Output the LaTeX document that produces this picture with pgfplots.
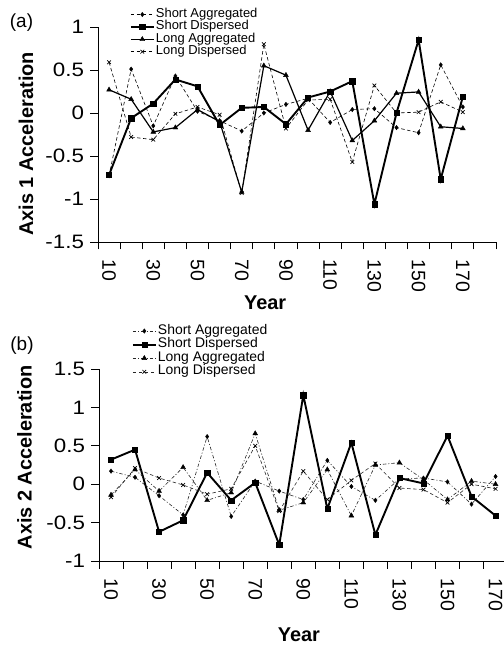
\documentclass[border=0pt]{standalone}
\usepackage{fontspec}
\setmainfont{Liberation Sans}
\newfontfamily\yticfamily[FakeStretch=1.15]{Liberation Sans}
\usepackage{pgfplots}
\pgfplotsset{compat=1.18}
\usepackage{pgfplotstable}

\newcommand\ticfont{\fontsize{19.5}{19.5}\selectfont}
\newcommand\yticfont{\yticfamily\fontsize{19.5}{19.5}\selectfont}
\newcommand\labfont{\fontsize{20}{20}\selectfont\bfseries}

\pgfplotstableread{
x SA SD LA LD
10 -0.73 -0.72 0.27 0.59
20 0.51 -0.06 0.16 -0.28
30 -0.15 0.11 -0.22 -0.31
40 0.43 0.39 -0.17 -0.01
50 0.02 0.31 0.04 0.07
60 -0.09 -0.14 -0.10 -0.02
70 -0.21 0.06 -0.92 -0.93
80 0.00 0.07 0.55 0.80
90 0.10 -0.13 0.44 -0.18
100 0.17 0.18 -0.20 0.15
110 -0.11 0.25 0.25 0.16
120 0.04 0.37 -0.32 -0.57
130 0.05 -1.06 -0.09 0.32
140 -0.17 0.00 0.23 0.00
150 -0.23 0.85 0.245 0.01
160 0.56 -0.77 -0.16 0.13
170 0.07 0.19 -0.18 0.01
}\dataA

\pgfplotstableread{
x SA SD LA LD
10 0.17 0.32 -0.14 -0.17
20 0.09 0.45 0.19 0.21
30 -0.15 -0.62 -0.09 0.08
40 -0.40 -0.47 0.22 -0.01
50 0.62 0.15 -0.21 -0.13
60 -0.42 -0.21 -0.11 -0.06
70 0.04 0.02 0.66 0.50
80 -0.09 -0.79 -0.34 -0.35
90 -0.20 1.16 -0.24 0.17
100 0.31 -0.32 0.19 -0.20
110 -0.03 0.54 -0.41 0.05
120 -0.21 -0.66 0.25 0.27
130 0.07 0.08 0.28 -0.05
140 0.08 0.01 0.06 -0.07
150 0.03 0.63 -0.20 -0.24
160 -0.26 -0.16 0.04 0.00
170 0.10 -0.41 0.00 -0.06
}\dataB

\pgfplotsset{
  panel/.style={
    scale only axis, anchor=south west,
    axis x line*=bottom, axis y line*=left,
    axis line style={line width=0.9bp, black},
    tick align=outside,
    tick style={black, line width=0.8bp},
    major tick length=7.5bp,
    xmin=5, xmax=185,
    xtick={5,15,...,185}, xticklabels={},
    extra x ticks={10,30,...,170},
    extra x tick labels={10,30,50,70,90,110,130,150,170},
    extra x tick style={major tick length=0pt, xticklabel style={rotate=-90, anchor=west}},
    xticklabel style={font=\ticfont},
    yticklabel style={font=\yticfont},
    xticklabel shift=14bp,
    yticklabel shift=3bp,
    ylabel style={font=\labfont},
    xlabel style={font=\labfont},
    legend cell align=left,
    legend image code/.code={\draw[mark repeat=2,mark phase=2,##1] plot coordinates {(0bp,0bp) (11.5bp,0bp) (23bp,0bp)};},
  },
  sa/.style={black, line width=0.6bp, dash pattern=on 3.5bp off 2.5bp, mark=diamond*, mark size=2.2bp, mark options={solid, line width=0.4bp}},
  sd/.style={black, line width=1.9bp, mark=square*, mark size=2.6bp, mark options={solid, line width=0.4bp}},
  la/.style={black, line width=1.2bp, mark=triangle*, mark size=2.8bp, mark options={solid, line width=0.4bp}},
  ld/.style={black, line width=0.6bp, dash pattern=on 3.5bp off 2.5bp, mark=x, mark size=2.6bp, mark options={solid, line width=0.7bp}},
  sab/.style={black!85, line width=0.6bp, dash pattern=on 3.5bp off 2bp on 1bp off 2bp, mark=diamond*, mark size=2.2bp, mark options={solid, black, line width=0.4bp}},
  lab/.style={black!85, line width=0.6bp, dash pattern=on 3.5bp off 2bp on 1bp off 2bp, mark=triangle*, mark size=2.8bp, mark options={solid, black, line width=0.4bp}},
  ldb/.style={black!85, line width=0.6bp, dash pattern=on 3.5bp off 2.5bp, mark=x, mark size=2.6bp, mark options={solid, black, line width=0.7bp}},
}

\begin{document}
\begin{tikzpicture}
\begin{scope}
\clip (0,0) rectangle (504bp,645bp);

% Panel (a)
\begin{axis}[panel,
  at={(98bp,403bp)}, width=398bp, height=215bp,
  ymin=-1.5, ymax=1,
  ytick={-1.5,-1,-0.5,0,0.5,1},
  yticklabels={-1.5,-1,-0.5,0,0.5,1},
  ylabel={Axis 1 Acceleration},
  ylabel style={at={(axis description cs:-0.181,0.456)}, anchor=center},
  xlabel={Year},
  xlabel style={at={(axis description cs:0.42,-0.284)}, anchor=center},
  legend style={at={(axis description cs:0.080,1.086)}, anchor=north west,
    draw=none, fill=none, inner sep=0pt, outer sep=0pt, row sep=0.4bp,
    font=\fontsize{13}{13}\selectfont, nodes={inner xsep=1.2bp, inner ysep=0pt, text height=9bp, text depth=3bp}},
]
\addplot[sa] table[x=x, y=SA] {\dataA};
\addlegendentry{Short Aggregated}
\addplot[sd] table[x=x, y=SD] {\dataA};
\addlegendentry{Short Dispersed}
\addplot[la] table[x=x, y=LA] {\dataA};
\addlegendentry{Long Aggregated}
\addplot[ld] table[x=x, y=LD] {\dataA};
\addlegendentry{Long Dispersed}
\end{axis}

% Panel (b)
\begin{axis}[panel,
  at={(99bp,84bp)}, width=432.6bp, height=192bp,
  ymin=-1, ymax=1.5,
  ytick={-1,-0.5,0,0.5,1,1.5},
  yticklabels={-1,-0.5,0,0.5,1,1.5},
  ylabel={Axis 2 Acceleration},
  ylabel style={at={(axis description cs:-0.172,0.54)}, anchor=center},
  xlabel={Year},
  xlabel style={at={(axis description cs:0.462,-0.383)}, anchor=center},
  legend style={at={(axis description cs:0.076,1.229)}, anchor=north west,
    draw=none, fill=none, inner sep=0pt, outer sep=0pt, row sep=1.6bp,
    font=\fontsize{14}{14}\selectfont, nodes={inner xsep=1.2bp, inner ysep=0pt, text height=9bp, text depth=3bp}},
]
\addplot[sab] table[x=x, y=SA] {\dataB};
\addlegendentry{Short Aggregated}
\addplot[sd] table[x=x, y=SD] {\dataB};
\addlegendentry{Short Dispersed}
\addplot[lab] table[x=x, y=LA] {\dataB};
\addlegendentry{Long Aggregated}
\addplot[ldb] table[x=x, y=LD] {\dataB};
\addlegendentry{Long Dispersed}
\end{axis}

\node[font=\fontsize{19}{19}\selectfont] at (21.5bp,622bp) {(a)};
\node[font=\fontsize{19}{19}\selectfont] at (22bp,299bp) {(b)};
\end{scope}
\pgfresetboundingbox
\useasboundingbox (0,0) rectangle (504bp,645bp);
\end{tikzpicture}
\end{document}
